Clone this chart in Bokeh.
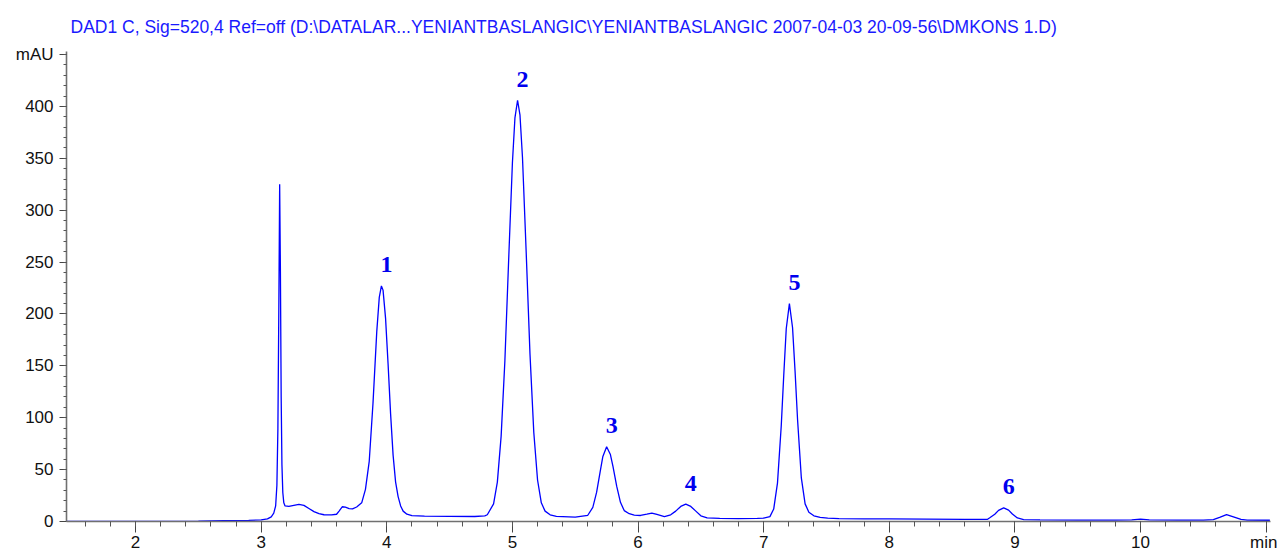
from bokeh.plotting import figure
from bokeh.models import FixedTicker, Title, ColumnDataSource
from bokeh.core.properties import value
from bokeh.embed import file_html
from bokeh.resources import INLINE

# ---- data ----
time_min = [
    1.45, 2.00, 2.50, 2.70, 2.90, 3.00, 3.05, 3.08, 3.10, 3.115, 3.125, 3.133, 3.140, 3.147,
    3.153, 3.159, 3.165, 3.172, 3.18, 3.19, 3.22, 3.26, 3.30, 3.34, 3.38, 3.42, 3.46, 3.50,
    3.56, 3.60, 3.62, 3.645, 3.67, 3.70, 3.727, 3.76, 3.80, 3.83, 3.86, 3.89, 3.92, 3.94,
    3.957, 3.97, 3.99, 4.01, 4.03, 4.05, 4.07, 4.09, 4.11, 4.13, 4.16, 4.20, 4.30, 4.50,
    4.70, 4.78, 4.80, 4.85, 4.88, 4.91, 4.94, 4.97, 5.00, 5.02, 5.041, 5.06, 5.08, 5.11,
    5.14, 5.17, 5.20, 5.23, 5.26, 5.30, 5.35, 5.50, 5.60, 5.64, 5.67, 5.70, 5.72, 5.75,
    5.78, 5.80, 5.83, 5.86, 5.89, 5.93, 5.97, 6.02, 6.07, 6.11, 6.15, 6.21, 6.26, 6.30,
    6.34, 6.38, 6.42, 6.46, 6.50, 6.55, 6.65, 6.80, 6.95, 7.00, 7.05, 7.08, 7.11, 7.14,
    7.16, 7.18, 7.205, 7.23, 7.25, 7.27, 7.30, 7.33, 7.36, 7.40, 7.45, 7.51, 7.60, 7.80,
    8.00, 8.30, 8.60, 8.78, 8.80, 8.84, 8.87, 8.911, 8.95, 8.98, 9.02, 9.07, 9.20, 9.50,
    9.80, 9.93, 10.00, 10.07, 10.30, 10.50, 10.58, 10.63, 10.685, 10.74, 10.80, 10.85, 11.03,
]
signal_mau = [
    0.0, 0.0, 0.4, 0.9, 1.1, 1.5, 2.5, 4.5, 8.0, 15.0, 35.0, 90.0, 200.0, 325.0,
    240.0, 120.0, 55.0, 28.0, 18.0, 15.0, 14.5, 15.5, 16.5, 15.5, 12.5, 9.5, 7.5, 6.5,
    6.3, 7.0, 10.0, 14.2, 13.8, 12.5, 12.2, 14.0, 18.0, 31.0, 58.0, 114.0, 183.0, 216.0,
    227.0, 223.0, 196.0, 152.0, 104.0, 64.0, 38.0, 24.0, 15.0, 10.0, 7.0, 5.6, 5.2, 5.0,
    4.8, 5.5, 6.5, 17.0, 38.0, 82.0, 155.0, 252.0, 346.0, 389.0, 406.0, 392.0, 351.0, 258.0,
    161.0, 86.0, 40.0, 18.0, 10.0, 6.5, 5.0, 4.3, 6.0, 13.6, 28.0, 49.0, 62.7, 72.0,
    64.5, 53.3, 34.0, 18.5, 10.5, 7.5, 6.2, 5.8, 7.0, 8.0, 6.8, 4.8, 6.5, 10.0,
    14.5, 16.7, 14.5, 10.0, 5.5, 3.5, 3.0, 2.7, 3.0, 3.3, 4.7, 12.0, 37.0, 92.0,
    141.0, 186.0, 210.0, 187.0, 145.0, 98.0, 42.0, 17.0, 9.0, 5.5, 4.0, 3.2, 2.8, 2.6,
    2.5, 2.3, 2.1, 2.0, 3.6, 7.0, 10.7, 13.2, 11.0, 7.2, 3.4, 1.9, 1.5, 1.4,
    1.4, 1.6, 2.3, 1.6, 1.3, 1.3, 1.8, 4.0, 6.7, 4.5, 2.0, 1.3, 1.2,
]

peak_labels = ["1", "2", "3", "4", "5", "6"]
peak_times = [3.957, 5.041, 5.75, 6.38, 7.205, 8.911]
peak_heights = [227.0, 406.0, 72.0, 16.7, 210.0, 13.2]

x_ticks = [2, 3, 4, 5, 6, 7, 8, 9, 10, 11]
x_minor = [round(1.6 + 0.2 * i, 1) for i in range(48)]
y_ticks = [0, 50, 100, 150, 200, 250, 300, 350, 400, 450]
y_minor = list(range(10, 451, 10))

title_text = ("DAD1 C, Sig=520,4 Ref=off (D:\\DATALAR...YENIANTBASLANGIC\\YENIANTBASLANGIC "
              "2007-04-03 20-09-56\\DMKONS 1.D)")

# ---- figure ----
p = figure(width=1277, height=554, x_range=(1.45, 11.035), y_range=(0, 453),
           output_backend="svg", toolbar_location=None,
           min_border_left=66, min_border_right=7, min_border_top=51, min_border_bottom=31)
p.outline_line_color = None
p.xgrid.visible = False
p.ygrid.visible = False
p.background_fill_color = "white"
p.border_fill_color = "white"

p.add_layout(Title(text=title_text, align="left", offset=4, standoff=29,
                   text_font="Liberation Sans", text_font_size="17.5px",
                   text_font_style="normal", text_color="#1a1aff"), "above")

src = ColumnDataSource(dict(t=time_min, v=signal_mau))
p.line("t", "v", source=src, line_color="#0000ff", line_width=1.3)

lab = ColumnDataSource(dict(t=peak_times, v=peak_heights, s=peak_labels))
p.text("t", "v", text="s", source=lab, x_offset=5, y_offset=-21,
       text_align="center", text_baseline="alphabetic",
       text_font=value("Liberation Serif"), text_font_style="bold",
       text_font_size="24px", text_color="#0000ee")

for ax in (p.xaxis[0], p.yaxis[0]):
    ax.axis_line_color = "#707070"
    ax.axis_line_width = 1.6
    ax.major_tick_line_color = "#444444"
    ax.minor_tick_line_color = "#555555"
    ax.major_tick_in = 0
    ax.minor_tick_in = 0
    ax.major_label_text_font = "Liberation Sans"
    ax.major_label_text_font_size = "17px"
    ax.major_label_text_color = "#111111"

xa = p.xaxis[0]
xa.ticker = FixedTicker(ticks=x_ticks, minor_ticks=x_minor)
xa.major_label_overrides = {11: "min"}
xa.major_tick_out = 11
xa.minor_tick_out = 5
xa.major_label_standoff = 0

ya = p.yaxis[0]
ya.ticker = FixedTicker(ticks=y_ticks, minor_ticks=y_minor)
ya.major_label_overrides = {450: "mAU"}
ya.major_tick_out = 7
ya.minor_tick_out = 3
ya.major_label_standoff = 6

open("out.html", "w").write(file_html(p, INLINE))
